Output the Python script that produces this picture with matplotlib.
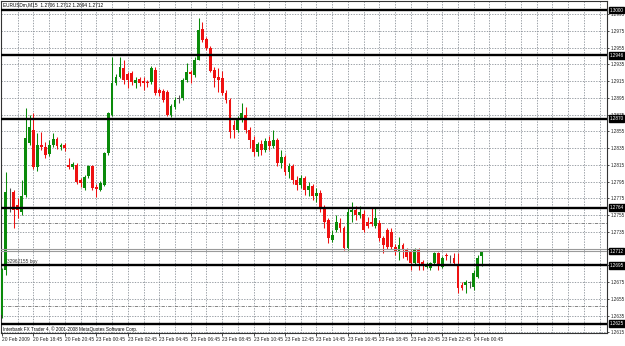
import matplotlib
matplotlib.use("Agg")
import matplotlib.pyplot as plt
import matplotlib.transforms as mtransforms
import numpy as np

# chart texts
chart_title = "EURUSDm,M15  1.2706 1.2712 1.2694 1.2712"
copyright_text = "Interbank FX Trader 4, \u00a9 2001-2008 MetaQuotes Software Corp."
order_text = "32962155 buy"

# M15 bars, oldest first
opens = [
    1.2636, 1.2689, 1.2781, 1.2783, 1.2767, 1.2759, 1.2779, 1.2841, 1.2857, 1.2812,
    1.2839, 1.2836, 1.2828, 1.2839, 1.2846, 1.2836, 1.2839, 1.2815, 1.2812, 1.2815,
    1.2797, 1.2787, 1.2802, 1.2814, 1.2789, 1.2785, 1.2791, 1.2829, 1.2875, 1.2913,
    1.2920, 1.2931, 1.2924, 1.2925, 1.2913, 1.2918, 1.2915, 1.2914, 1.2914, 1.2928,
    1.2904, 1.2903, 1.2902, 1.2875, 1.2884, 1.2894, 1.2895, 1.2916, 1.2926, 1.2922,
    1.2940, 1.2977, 1.2965, 1.2955, 1.2928, 1.2920, 1.2919, 1.2901, 1.2893, 1.2863,
    1.2857, 1.2869, 1.2875, 1.2857, 1.2845, 1.2830, 1.2840, 1.2833, 1.2844, 1.2838,
    1.2845, 1.2817, 1.2824, 1.2806, 1.2814, 1.2797, 1.2791, 1.2799, 1.2785, 1.2790,
    1.2778, 1.2781, 1.2763, 1.2749, 1.2725, 1.2737, 1.2746, 1.2740, 1.2716, 1.2759,
    1.2761, 1.2755, 1.2756, 1.2747, 1.2747, 1.2742, 1.2746, 1.2728, 1.2737, 1.2735,
    1.2717, 1.2711, 1.2719, 1.2713, 1.2711, 1.2698, 1.2713, 1.2699, 1.2693, 1.2692,
    1.2698, 1.2710, 1.2693, 1.2707, 1.2706, 1.2704, 1.2695, 1.2671, 1.2671, 1.2674,
    1.2669, 1.2681, 1.2706,
]
highs = [
    1.2692, 1.2806, 1.2787, 1.2785, 1.2775, 1.2797, 1.2883, 1.2875, 1.2877, 1.2853,
    1.2854, 1.2842, 1.2845, 1.2853, 1.2848, 1.2841, 1.2841, 1.2823, 1.2818, 1.2817,
    1.2799, 1.2803, 1.2815, 1.2815, 1.2792, 1.2796, 1.2830, 1.2878, 1.2944, 1.2924,
    1.2944, 1.2940, 1.2926, 1.2927, 1.2920, 1.2920, 1.2920, 1.2916, 1.2933, 1.2932,
    1.2907, 1.2906, 1.2904, 1.2888, 1.2896, 1.2898, 1.2919, 1.2937, 1.2928, 1.2944,
    1.2990, 1.2986, 1.2968, 1.2957, 1.2932, 1.2931, 1.2927, 1.2904, 1.2895, 1.2869,
    1.2873, 1.2889, 1.2884, 1.2860, 1.2849, 1.2842, 1.2845, 1.2847, 1.2849, 1.2857,
    1.2847, 1.2833, 1.2827, 1.2817, 1.2816, 1.2802, 1.2803, 1.2802, 1.2795, 1.2792,
    1.2787, 1.2785, 1.2767, 1.2751, 1.2737, 1.2755, 1.2751, 1.2742, 1.2763, 1.2771,
    1.2766, 1.2766, 1.2761, 1.2753, 1.2763, 1.2763, 1.2749, 1.2730, 1.2740, 1.2740,
    1.2720, 1.2729, 1.2722, 1.2716, 1.2713, 1.2716, 1.2716, 1.2701, 1.2699, 1.2699,
    1.2711, 1.2711, 1.2706, 1.2710, 1.2707, 1.2710, 1.2710, 1.2675, 1.2677, 1.2676,
    1.2689, 1.2707, 1.2712,
]
lows = [
    1.2632, 1.2683, 1.2759, 1.2740, 1.2751, 1.2755, 1.2777, 1.2839, 1.2810, 1.2808,
    1.2833, 1.2823, 1.2826, 1.2836, 1.2834, 1.2833, 1.2832, 1.2810, 1.2810, 1.2792,
    1.2789, 1.2785, 1.2799, 1.2785, 1.2777, 1.2784, 1.2790, 1.2827, 1.2873, 1.2910,
    1.2919, 1.2912, 1.2907, 1.2910, 1.2907, 1.2909, 1.2904, 1.2908, 1.2912, 1.2898,
    1.2897, 1.2890, 1.2873, 1.2872, 1.2882, 1.2889, 1.2893, 1.2914, 1.2913, 1.2920,
    1.2940, 1.2962, 1.2952, 1.2926, 1.2908, 1.2902, 1.2898, 1.2889, 1.2847, 1.2847,
    1.2854, 1.2866, 1.2853, 1.2835, 1.2826, 1.2826, 1.2827, 1.2830, 1.2833, 1.2835,
    1.2814, 1.2811, 1.2803, 1.2799, 1.2792, 1.2785, 1.2787, 1.2779, 1.2778, 1.2773,
    1.2771, 1.2759, 1.2740, 1.2722, 1.2723, 1.2735, 1.2735, 1.2713, 1.2713, 1.2747,
    1.2749, 1.2751, 1.2735, 1.2740, 1.2742, 1.2740, 1.2724, 1.2710, 1.2714, 1.2714,
    1.2707, 1.2701, 1.2704, 1.2701, 1.2689, 1.2695, 1.2689, 1.2689, 1.2692, 1.2689,
    1.2695, 1.2689, 1.2692, 1.2701, 1.2698, 1.2695, 1.2662, 1.2665, 1.2662, 1.2668,
    1.2665, 1.2680, 1.2694,
]
closes = [
    1.2689, 1.2783, 1.2781, 1.2761, 1.2761, 1.2778, 1.2847, 1.2860, 1.2812, 1.2839,
    1.2836, 1.2827, 1.2839, 1.2846, 1.2838, 1.2839, 1.2835, 1.2812, 1.2816, 1.2795,
    1.2793, 1.2800, 1.2814, 1.2787, 1.2786, 1.2793, 1.2829, 1.2877, 1.2913, 1.2920,
    1.2932, 1.2916, 1.2916, 1.2914, 1.2916, 1.2913, 1.2913, 1.2913, 1.2931, 1.2901,
    1.2901, 1.2893, 1.2875, 1.2885, 1.2893, 1.2894, 1.2916, 1.2926, 1.2924, 1.2940,
    1.2976, 1.2964, 1.2955, 1.2927, 1.2919, 1.2916, 1.2901, 1.2893, 1.2854, 1.2857,
    1.2871, 1.2877, 1.2857, 1.2845, 1.2830, 1.2840, 1.2833, 1.2844, 1.2838, 1.2845,
    1.2817, 1.2824, 1.2806, 1.2814, 1.2797, 1.2791, 1.2799, 1.2785, 1.2790, 1.2778,
    1.2781, 1.2763, 1.2747, 1.2728, 1.2731, 1.2747, 1.2740, 1.2716, 1.2759, 1.2761,
    1.2755, 1.2759, 1.2737, 1.2742, 1.2744, 1.2751, 1.2728, 1.2719, 1.2717, 1.2717,
    1.2711, 1.2719, 1.2713, 1.2705, 1.2698, 1.2713, 1.2698, 1.2695, 1.2695, 1.2698,
    1.2710, 1.2695, 1.2704, 1.2706, 1.2706, 1.2698, 1.2668, 1.2668, 1.2675, 1.2674,
    1.2686, 1.2704, 1.2712,
]

time_labels = [
    "20 Feb 2009", "20 Feb 18:45", "20 Feb 20:45", "23 Feb 00:45",
    "23 Feb 02:45", "23 Feb 04:45", "23 Feb 06:45", "23 Feb 08:45",
    "23 Feb 10:45", "23 Feb 12:45", "23 Feb 14:45", "23 Feb 16:45",
    "23 Feb 18:45", "23 Feb 20:45", "23 Feb 22:45", "24 Feb 00:45",
]
price_ticks = [
    1.2995, 1.2975, 1.2955, 1.2935, 1.2915, 1.2895, 1.2875, 1.2855, 1.2835, 1.2815,
    1.2795, 1.2775, 1.2755, 1.2735, 1.2715, 1.2695, 1.2675, 1.2655, 1.2635, 1.2615,
]
level_lines = [1.3000, 1.2946, 1.2870, 1.2764, 1.2695, 1.2625]
dashdot_levels = [1.2746, 1.2646]
bid_price = 1.2712
order_price = 1.2714
order_label_price = 1.2700

BULL = "#0a8a0a"
BEAR = "#ee1111"
DOJI = "#505050"
GRID = "#8a9098"

o = np.asarray(opens)
h = np.asarray(highs)
l = np.asarray(lows)
c = np.asarray(closes)
x = np.arange(len(o))

fig = plt.figure(figsize=(6.25, 3.46), dpi=100)
ax = fig.add_axes([1 / 625, 13 / 346, 606 / 625, 332 / 346])
ax.set_xlim(-0.25, 153.9)
ax.set_ylim(1.26141, 1.30108)

# grid
for p in price_ticks:
    ax.axhline(p, color=GRID, lw=0.6, ls=(0, (1.6, 1.6)), zorder=0)
for xv in range(4, 154, 4):
    ax.axvline(xv, color=GRID, lw=0.6, ls=(0, (1.6, 1.6)), zorder=0)
for p in dashdot_levels:
    ax.axhline(p, color="#707070", lw=0.6, ls=(0, (4, 1.5, 1, 1.5)), zorder=0)

# candles
colors = np.where(c > o, BULL, np.where(c < o, BEAR, DOJI))
ax.vlines(x, l, h, colors=colors, lw=0.75, zorder=2)
body_lo = np.minimum(o, c)
body_h = np.maximum(np.abs(c - o), 0.00005)
ax.bar(x, body_h, bottom=body_lo, width=0.72, color=colors, linewidth=0, zorder=3)

# horizontal levels
for p in level_lines:
    ax.axhline(p, color="black", lw=1.7, zorder=4)
ax.axhline(bid_price, color="#9a9a9a", lw=0.8, zorder=4)
ax.axhline(order_price, color="#9a9a9a", lw=0.8, zorder=4)

# right price scale; labels hidden where a level box sits on top of them
boxed = level_lines + [bid_price]
ax.yaxis.tick_right()
ax.set_yticks(price_ticks)
ax.set_yticklabels([
    "" if min(abs(p - b) for b in boxed) < 0.00035 else f"{p:.4f}"
    for p in price_ticks
])
ax.tick_params(axis="y", length=1.5, width=0.5, pad=0.8, labelsize=3.3,
               labelcolor="#222222", direction="out")

ax.set_xticks(x[::8])
ax.set_xticklabels(time_labels, ha="left")
ax.tick_params(axis="x", length=2, width=0.5, pad=1, labelsize=3.5,
               labelcolor="#222222", direction="out")
for lab in ax.get_xticklabels() + ax.get_yticklabels():
    lab.set_family("Liberation Sans")

trans = mtransforms.blended_transform_factory(ax.transAxes, ax.transData)
for p in boxed:
    ax.text(1.004, p, f"{p:.4f}", transform=trans, ha="left", va="center",
            fontsize=3.3, color="white", family="Liberation Sans", zorder=6,
            bbox=dict(boxstyle="square,pad=0.2", facecolor="black", edgecolor="black"))

ax.text(0.003, 0.996, chart_title, transform=ax.transAxes, ha="left", va="top",
        fontsize=3.4, family="Liberation Sans", color="black", zorder=6)
ax.text(0.3, 1.2619, copyright_text, ha="left", va="center", fontsize=3.3,
        family="Liberation Sans", color="black", zorder=6,
        bbox=dict(boxstyle="square,pad=0.1", facecolor="white", edgecolor="none"))
ax.text(1.3, order_label_price, order_text, ha="left", va="center", fontsize=3.4,
        family="Liberation Sans", color="#333333", zorder=6)

for s in ax.spines.values():
    s.set_linewidth(0.8)
    s.set_color("#333333")

fig.savefig("out.png", dpi=100, facecolor="white")
